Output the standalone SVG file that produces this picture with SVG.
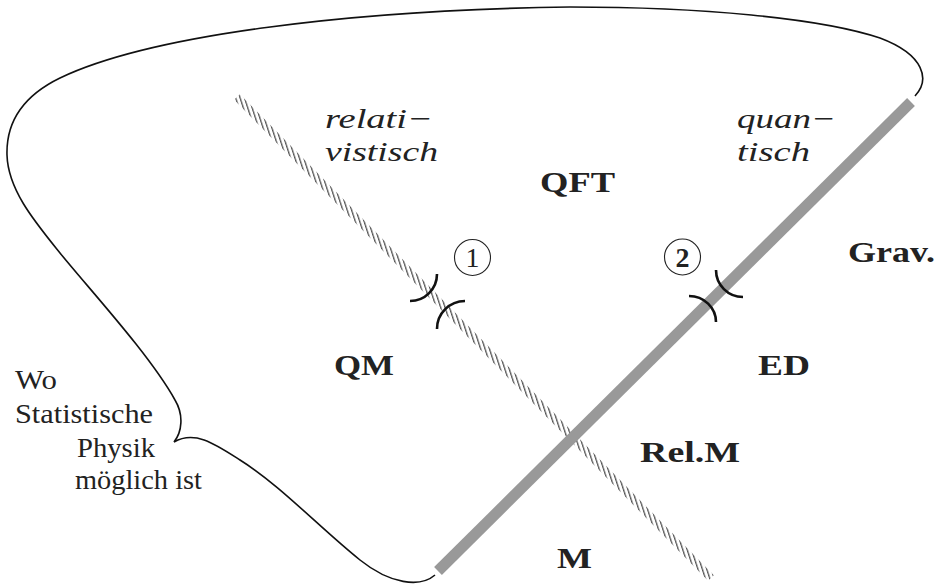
<svg xmlns="http://www.w3.org/2000/svg" width="941" height="584" viewBox="0 0 941 584">
<style>
text{font-family:'Liberation Serif','DejaVu Serif','Noto Serif',serif;fill:#222}
.it{font-style:italic;font-size:28px}
.rm{font-size:28px}
.bf{font-weight:bold;font-size:30px}
.arc{fill:none;stroke:#111;stroke-width:2.6}
.num{fill:none;stroke:#222;stroke-width:1.1}
</style>
<defs>
<pattern id="hatch" patternUnits="userSpaceOnUse" width="4.2" height="10" patternTransform="rotate(-18)">
<rect x="0" y="0" width="1.3" height="10" fill="#555"/>
</pattern>
</defs>
<rect width="941" height="584" fill="#fff"/>
<g id="outline">
<path d="M435,575 C420,588 390,584 360,560 C320,528 280,485 240,460 C215,444 195,430 174,442 C182,432 184,415 175,400 C150,355 90,290 60,253 C35,222 8,190 7,155 C6,120 25,95 60,78 C150,35 350,10 570,7 C700,7 820,18 880,38 C925,55 930,80 915,96" fill="none" stroke="#111" stroke-width="1.6"/>
</g>
<g id="connectors">
<line id="relativistic" x1="237" y1="97" x2="711" y2="578" stroke="url(#hatch)" stroke-width="8"/>
<line id="quantum" x1="438" y1="571" x2="911" y2="102" stroke="#999" stroke-width="11"/>
<path class="arc" d="M437,274 A27,27 0 0 1 410,301"/>
<path class="arc" d="M437,329 A28,28 0 0 1 465,301"/>
<path class="arc" d="M716,270 A27,27 0 0 0 743,297"/>
<path class="arc" d="M689,296 A27,26 0 0 1 716,322"/>
</g>
<g id="n1">
<circle class="num" cx="472.5" cy="257.5" r="18"/>
<text class="rm" x="472.5" y="267" text-anchor="middle" font-size="26">1</text>
</g>
<g id="n2">
<circle class="num" cx="682.5" cy="257" r="18"/>
<text class="rm" x="682.5" y="267" text-anchor="middle" font-size="26" font-weight="bold">2</text>
</g>
<g id="rel-label"><text class="it" x="325" y="128" textLength="108" lengthAdjust="spacingAndGlyphs">relati−</text><text class="it" x="325" y="161" textLength="113" lengthAdjust="spacingAndGlyphs">vistisch</text></g>
<g id="quan-label"><text class="it" x="737" y="128" textLength="99" lengthAdjust="spacingAndGlyphs">quan−</text><text class="it" x="737" y="161" textLength="73" lengthAdjust="spacingAndGlyphs">tisch</text></g>
<g id="QFT"><text class="bf" x="540" y="192" textLength="75" lengthAdjust="spacingAndGlyphs">QFT</text></g>
<g id="QM"><text class="bf" x="334" y="375" textLength="60" lengthAdjust="spacingAndGlyphs">QM</text></g>
<g id="ED"><text class="bf" x="758" y="375" textLength="52" lengthAdjust="spacingAndGlyphs">ED</text></g>
<g id="RelM"><text class="bf" x="640" y="462" textLength="100" lengthAdjust="spacingAndGlyphs">Rel.M</text></g>
<g id="M"><text class="bf" x="557" y="568" textLength="35" lengthAdjust="spacingAndGlyphs">M</text></g>
<g id="Grav"><text class="bf" x="848" y="262" textLength="87" lengthAdjust="spacingAndGlyphs">Grav.</text></g>
<g id="stat-label">
<text class="rm" x="15" y="389" textLength="42" lengthAdjust="spacingAndGlyphs">Wo</text>
<text class="rm" x="15" y="423" textLength="138" lengthAdjust="spacingAndGlyphs">Statistische</text>
<text class="rm" x="77" y="457" textLength="78" lengthAdjust="spacingAndGlyphs">Physik</text>
<text class="rm" x="75" y="489" textLength="127" lengthAdjust="spacingAndGlyphs">möglich ist</text>
</g>
</svg>
